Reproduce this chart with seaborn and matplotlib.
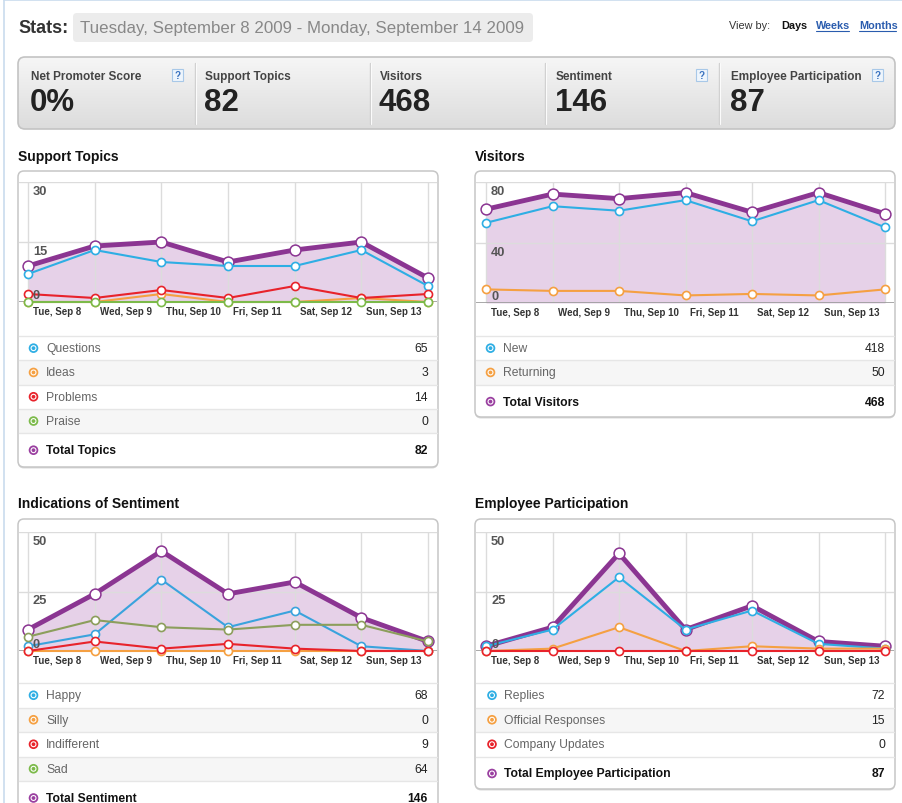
import numpy as np
import matplotlib
matplotlib.use("Agg")
import matplotlib.pyplot as plt
from matplotlib.patches import FancyBboxPatch, Rectangle, Circle
import seaborn as sns

sns.set_theme(style="white")
plt.rcParams['font.family'] = ['Liberation Sans', 'DejaVu Sans']

W, H = 903, 804

# ---- data ----
days = ["Tue, Sep 8", "Wed, Sep 9", "Thu, Sep 10", "Fri, Sep 11",
        "Sat, Sep 12", "Sun, Sep 13", "Mon, Sep 14"]

summary_labels = ["Net Promoter Score", "Support Topics", "Visitors",
                  "Sentiment", "Employee Participation"]
summary_values = ["0%", "82", "468", "146", "87"]
summary_help = [True, False, False, True, True]

# Support topics
questions = [7, 13, 10, 9, 9, 13, 4]
ideas = [0, 0, 2, 0, 0, 1, 0]
problems = [2, 1, 3, 1, 4, 1, 2]
praise = [0, 0, 0, 0, 0, 0, 0]
total_topics = [9, 14, 15, 10, 13, 15, 6]

# Visitors
new_visitors = [53, 64, 61, 68, 54, 68, 50]
returning = [9, 8, 8, 5, 6, 5, 9]
total_visitors = [62, 72, 69, 73, 60, 73, 59]

# Sentiment
happy = [2, 7, 30, 10, 17, 2, 0]
silly = [0, 0, 0, 0, 0, 0, 0]
indifferent = [0, 4, 1, 3, 1, 0, 0]
sad = [6, 13, 10, 9, 11, 11, 4]
total_sentiment = [9, 24, 42, 24, 29, 14, 4]

# Employee participation
replies = [2, 9, 31, 9, 17, 3, 1]
official = [0, 1, 10, 0, 2, 1, 1]
company_updates = [0, 0, 0, 0, 0, 0, 0]
total_employee = [2, 10, 41, 9, 19, 4, 2]

# ---- colours ----
PURPLE = "#8b3592"
FILL = "#e6d1e8"
BLUE = "#2eaee4"
ORANGE = "#f5a042"
RED = "#e8232b"
GREEN = "#7cba4a"
OLIVE = "#8c9e5c"
GRID = "#dcdcdc"

fig = plt.figure(figsize=(W / 100, H / 100), dpi=100)
fig.patch.set_facecolor("white")
bg = fig.add_axes([0, 0, 1, 1])
bg.set_xlim(0, W)
bg.set_ylim(H, 0)
bg.set_axis_off()


def px_axes(x0, y0, x1, y1):
    return fig.add_axes([x0 / W, 1 - y1 / H, (x1 - x0) / W, (y1 - y0) / H])


def rbox(x0, y0, x1, y1, r=6, **kw):
    p = FancyBboxPatch((x0, y0), x1 - x0, y1 - y0,
                       boxstyle=f"round,pad=0,rounding_size={r}", **kw)
    bg.add_patch(p)
    return p


def panel(x0, y0, x1, y1):
    rbox(x0, y0 + 1.5, x1, y1 + 1.5, fc="#dadada", ec="none", zorder=1)
    rbox(x0, y0, x1, y1, fc="white", ec="#c6c6c6", lw=1.1, zorder=2)


def ring(x, y, c):
    bg.add_patch(Circle((x, y), 4.8, fc=c, ec="none", zorder=6))
    bg.add_patch(Circle((x, y), 3.0, fc="white", ec="none", zorder=6))
    bg.add_patch(Circle((x, y), 1.9, fc=c, ec="none", zorder=6))


def chart(rect, x_first, x_last, ymax, ticks, total, series):
    x0, y0, x1, y1 = rect
    ax = px_axes(x0, y0, x1, y1)
    ax.set_facecolor("none")
    unit = (x_last - x_first) / 6
    x = np.arange(7)
    ax.fill_between(x, total, color=FILL, lw=0, zorder=1)
    for v in ticks[1:]:
        ax.axhline(v, color=GRID, lw=1, zorder=1.5)
    for xi in x:
        ax.axvline(xi, color=GRID, lw=1, zorder=1.5)
    ax.axhline(0, color="#9a9a9a", lw=1.2, zorder=2)
    sns.lineplot(x=x, y=total, ax=ax, color=PURPLE, linewidth=3.5, marker="o",
                 markersize=7.8, markerfacecolor="white", markeredgecolor=PURPLE,
                 markeredgewidth=1.1, clip_on=False, zorder=4)
    for vals, c in series:
        sns.lineplot(x=x, y=vals, ax=ax, color=c, linewidth=1.5, marker="o",
                     markersize=5.8, markerfacecolor="white", markeredgecolor=c,
                     markeredgewidth=1.2, clip_on=False, zorder=5)
    ax.set_xlim(-(x_first - x0) / unit, 6 + (x1 - x_last) / unit)
    ax.set_ylim(0, ymax)
    ax.set_axis_off()
    for v in ticks:
        dy = 7 if v == 0 else -9
        ax.annotate(str(v), xy=(0, v), xytext=(5, dy), textcoords="offset pixels",
                    ha="left", va="center", fontsize=9.3, fontweight="bold",
                    color="#555555", zorder=6, annotation_clip=False)
    for i, lab in enumerate(days[:6]):
        ax.annotate(lab, xy=(i, 0), xytext=(5, -9), textcoords="offset pixels",
                    ha="left", va="center", fontsize=7, fontweight="bold",
                    color="#333333", annotation_clip=False)
    return ax


def legend_table(x0, x1, ysep, row_h, rows, total_label, total_vals, mx):
    y = ysep
    for i, (name, vals, c) in enumerate(rows):
        if i % 2 == 1:
            bg.add_patch(Rectangle((x0, y), x1 - x0, row_h, fc="#f6f6f6",
                                   ec="none", zorder=3))
        bg.plot([x0, x1], [y, y], color="#e6e6e6", lw=1, zorder=4)
        cy = y + row_h / 2
        ring(mx, cy, c)
        bg.text(mx + 12.5, cy, name, ha="left", va="center", fontsize=8.7,
                color="#666666", zorder=6)
        bg.text(x1 - 9, cy, str(sum(vals)), ha="right", va="center",
                fontsize=8.7, color="#222222", zorder=6)
        y += row_h
    bg.plot([x0, x1], [y, y], color="#e6e6e6", lw=1, zorder=4)
    cy = y + 17
    ring(mx, cy, "#9a3fa0")
    bg.text(mx + 12.5, cy, total_label, ha="left", va="center", fontsize=8.7,
            fontweight="bold", color="#111111", zorder=6)
    bg.text(x1 - 9, cy, str(sum(total_vals)), ha="right", va="center",
            fontsize=8.7, fontweight="bold", color="#111111", zorder=6)


# ---- page frame ----
bg.plot([4.5, 4.5], [0, H], color="#c9dcee", lw=1.2, zorder=1)
bg.plot([4.5, W], [1, 1], color="#c9dcee", lw=1.2, zorder=1)

# ---- header ----
bg.text(18, 28.5, "Stats:", ha="left", va="center", fontsize=13,
        fontweight="bold", color="#333333")
rbox(73, 14, 533, 43, r=4, fc="#ececec", ec="none", zorder=1)
bg.text(80, 29, "Tuesday, September 8 2009 - Monday, September 14 2009",
        ha="left", va="center", fontsize=12.2, color="#888888", zorder=2)
bg.text(729, 26, "View by:", ha="left", va="center", fontsize=7.8, color="#333333")
bg.text(781, 26, "Days", ha="left", va="center", fontsize=7.8,
        fontweight="bold", color="#111111")
for lab, lx, lw_ in [("Weeks", 816, 33), ("Months", 859, 37)]:
    bg.text(lx, 26, lab, ha="left", va="center", fontsize=7.8,
            fontweight="bold", color="#2a5cae")
    bg.plot([lx, lx + lw_], [31.5, 31.5], color="#2a5cae", lw=0.8)

# ---- summary strip ----
box = rbox(18, 58, 895, 130, r=7, fc="none", ec="#c3c3c3", lw=1.2, zorder=3)
grad = np.linspace(0, 1, 100)[:, None]
im = bg.imshow(grad, cmap=matplotlib.colors.LinearSegmentedColormap.from_list(
    "g", ["#f6f6f6", "#dcdcdc"]), extent=(18, 895, 130, 58), aspect="auto", zorder=2)
im.set_clip_path(box)
bg.set_xlim(0, W)
bg.set_ylim(H, 0)
col_x = [31, 205, 380, 556, 731]
help_x = [177.5, None, None, 702, 878]
for i, (lab, val) in enumerate(zip(summary_labels, summary_values)):
    bg.text(col_x[i], 77, lab, ha="left", va="center", fontsize=8.5,
            fontweight="bold", color="#444444", zorder=4)
    bg.text(col_x[i] - 1, 103, val, ha="left", va="center", fontsize=22.5,
            fontweight="bold", color="#222222", zorder=4)
    if summary_help[i]:
        hx = help_x[i]
        bg.add_patch(Rectangle((hx - 5.5, 70), 11, 12, fc="#eef5fc", ec="#a8c8e8",
                               lw=0.8, zorder=4))
        bg.text(hx, 76.3, "?", ha="center", va="center", fontsize=7,
                fontweight="bold", color="#3a72bf", zorder=5)
for dx in [195, 370, 545, 719]:
    bg.plot([dx, dx], [64, 125], color="#cfcfcf", lw=1, zorder=4)
    bg.plot([dx + 1, dx + 1], [64, 125], color="#fbfbfb", lw=0.8, zorder=4)

# ---- section titles ----
for tx, ty, t in [(18, 157, "Support Topics"), (475, 157, "Visitors"),
                  (18, 504, "Indications of Sentiment"),
                  (475, 504, "Employee Participation")]:
    bg.text(tx, ty, t, ha="left", va="center", fontsize=10, fontweight="bold",
            color="#111111")

# ---- panels ----
panel(18, 172, 438, 468)
panel(475, 172, 895, 418)
panel(18, 520, 438, 840)
panel(475, 520, 895, 790)

# ---- charts ----
chart((19, 183, 437, 303), 28, 428, 30, [0, 15, 30], total_topics,
      [(questions, BLUE), (ideas, ORANGE), (problems, RED), (praise, GREEN)])
chart((476, 183, 894, 304), 486, 885, 80, [0, 40, 80], total_visitors,
      [(new_visitors, BLUE), (returning, ORANGE)])
chart((19, 533, 437, 652), 28, 428, 50, [0, 25, 50], total_sentiment,
      [(happy, "#3aa3dd"), (silly, ORANGE), (indifferent, RED), (sad, OLIVE)])
chart((476, 533, 894, 652), 486, 885, 50, [0, 25, 50], total_employee,
      [(replies, BLUE), (official, ORANGE), (company_updates, RED)])

# ---- legend tables ----
legend_table(19, 437, 337, 24.3,
             [("Questions", questions, BLUE), ("Ideas", ideas, ORANGE),
              ("Problems", problems, RED), ("Praise", praise, GREEN)],
             "Total Topics", total_topics, 33.5)
legend_table(476, 894, 337, 24.3,
             [("New", new_visitors, BLUE), ("Returning", returning, ORANGE)],
             "Total Visitors", total_visitors, 490.5)
legend_table(19, 437, 684, 24.5,
             [("Happy", happy, BLUE), ("Silly", silly, ORANGE),
              ("Indifferent", indifferent, RED), ("Sad", sad, GREEN)],
             "Total Sentiment", total_sentiment, 33.5)
legend_table(476, 894, 684, 24.5,
             [("Replies", replies, BLUE), ("Official Responses", official, ORANGE),
              ("Company Updates", company_updates, RED)],
             "Total Employee Participation", total_employee, 492)

fig.savefig("out.png", dpi=100)
